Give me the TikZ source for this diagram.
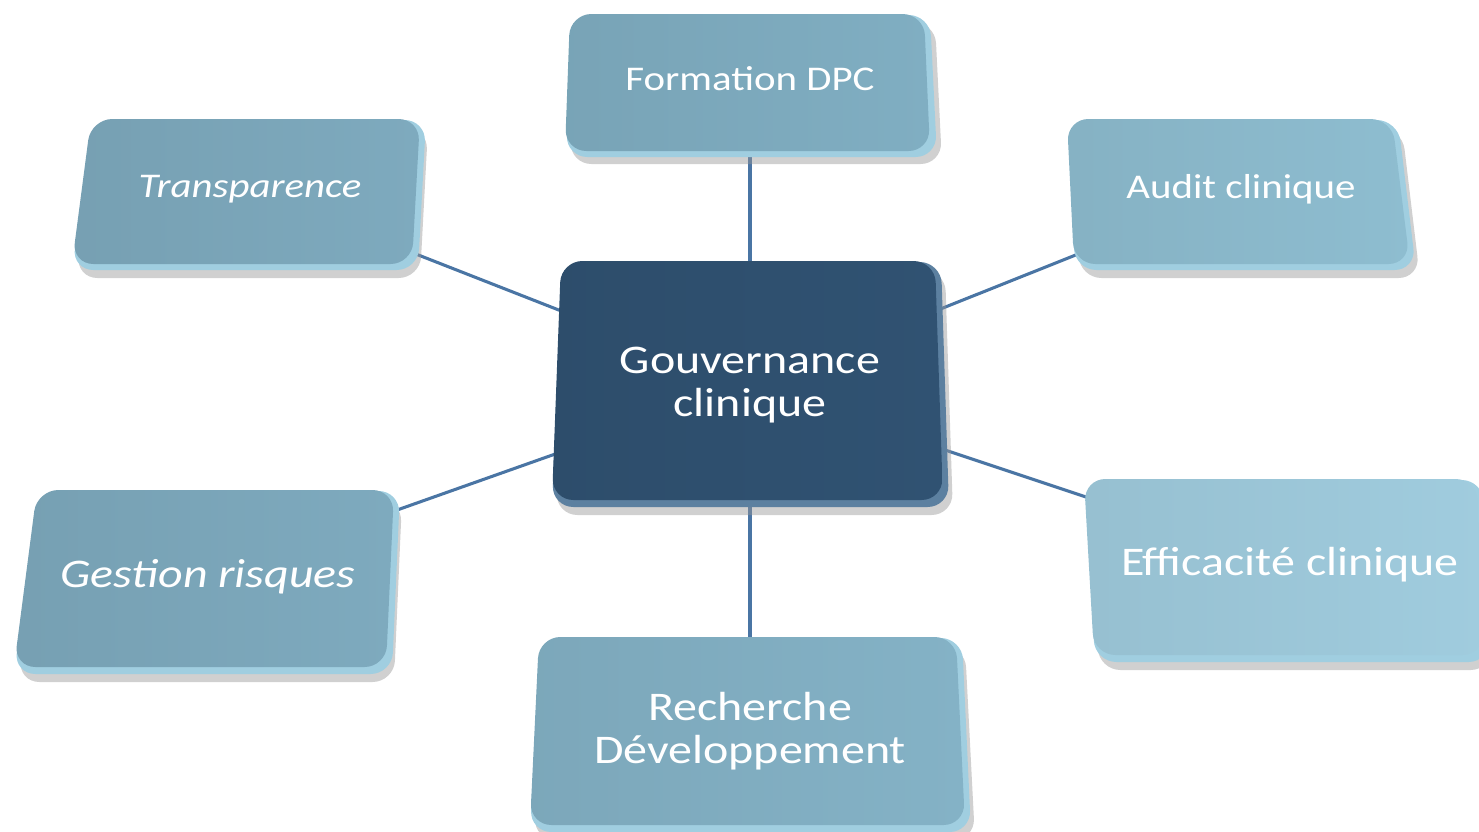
\documentclass[tikz,border=0pt]{standalone}
\usepackage{fontspec}
\usepackage{tikz}
\newfontfamily\boxfont[FakeStretch=1.18]{Carlito}

\pgfdeclarelayer{bg}
\pgfdeclarelayer{mid}
\pgfsetlayers{bg,mid,main}

\definecolor{linkblue}{RGB}{74,117,164}
\definecolor{bevel}{RGB}{160,206,224}
\definecolor{bevelnavy}{RGB}{92,128,160}
\definecolor{shadowgray}{RGB}{150,150,150}
\definecolor{formface}{RGB}{128,174,194}
\definecolor{leftface}{RGB}{126,170,190}
\definecolor{auditface}{RGB}{142,189,208}
\definecolor{gouvface}{RGB}{48,82,114}
\definecolor{efficface}{RGB}{160,204,222}
\definecolor{rechface}{RGB}{132,178,198}

\tikzset{
  face/.style={rounded corners=16pt, left color=#1!94!black, right color=#1},
  rim/.style={rounded corners=16pt, fill=bevel},
  shade below/.style={rounded corners=16pt, fill=shadowgray, opacity=0.45},
  small label/.style={text=white, font=\boxfont\fontsize{26}{30}\selectfont, align=center},
  big label/.style={text=white, font=\boxfont\fontsize{30.5}{32}\selectfont, align=center},
  link/.style={draw=linkblue, line width=2.3pt}
}

\begin{document}
\begin{tikzpicture}[x=0.75pt,y=0.75pt,yscale=-1,xscale=1]
\useasboundingbox (0,0) rectangle (1479,832);

% Text Node
\node[big label] (gouv) at (750,385) {Gouvernance\\clinique};
% Text Node
\node[small label] (form) at (750,79) {Formation DPC};
% Text Node
\node[small label] (trans) at (250,189) {\itshape Transparence};
% Text Node
\node[small label] (audit) at (1241,189) {Audit clinique};
% Text Node
\node[big label] (gest) at (208,577) {\itshape Gestion risques};
% Text Node
\node[big label] (effic) at (1290,565) {Efficacité clinique};
% Text Node
\node[big label] (rech) at (750,731) {Recherche\\Développement};

%Straight Lines
\begin{pgfonlayer}{bg}
\draw[link] (gouv) -- (form);
\draw[link] (gouv) -- (trans);
\draw[link] (gouv) -- (audit);
\draw[link] (gouv) -- (gest);
\draw[link] (gouv) -- (effic);
\draw[link] (gouv) -- (rech);
\end{pgfonlayer}

\begin{pgfonlayer}{mid}
% Formation DPC box
\fill[shade below] (575,22) -- (935,22) -- (942,164) -- (570,164) -- cycle;
\fill[rim] (572,15) -- (930,15) -- (937,157) -- (566,157) -- cycle;
\shade[face=formface] (570,14) -- (924,14) -- (930,151) -- (565,151) -- cycle;
% Transparence box
\fill[shade below] (95,128) -- (428,128) -- (420,278) -- (76,278) -- cycle;
\fill[rim] (92,120) -- (426,120) -- (418,270) -- (72,270) -- cycle;
\shade[face=leftface] (91,119) -- (420,119) -- (412,264) -- (72,264) -- cycle;
% Audit clinique box
\fill[shade below] (1072,128) -- (1402,128) -- (1420,278) -- (1080,278) -- cycle;
\fill[rim] (1068,120) -- (1398,120) -- (1416,270) -- (1075,270) -- cycle;
\shade[face=auditface] (1067,119) -- (1392,119) -- (1410,264) -- (1074,264) -- cycle;
% Gouvernance clinique box
\fill[shade below] (565,270) -- (945,270) -- (953,515) -- (556,515) -- cycle;
\fill[rim, fill=bevelnavy] (562,262) -- (941,262) -- (949,507) -- (552,507) -- cycle;
\shade[face=gouvface] (561,261) -- (935,261) -- (943,500) -- (552,500) -- cycle;
% Gestion risques box
\fill[shade below] (42,500) -- (402,500) -- (394,682) -- (18,682) -- cycle;
\fill[rim] (38,491) -- (400,491) -- (392,674) -- (14,674) -- cycle;
\shade[face=leftface] (37,490) -- (394,490) -- (386,667) -- (14,667) -- cycle;
% Efficacite clinique box
\fill[shade below] (1089,488) -- (1485,488) -- (1492,670) -- (1099,670) -- cycle;
\fill[rim] (1085,480) -- (1483,480) -- (1490,662) -- (1095,662) -- cycle;
\shade[face=efficface] (1084,479) -- (1477,479) -- (1484,655) -- (1094,655) -- cycle;
% Recherche Developpement box
\fill[shade below] (544,646) -- (965,646) -- (975,840) -- (534,840) -- cycle;
\fill[rim] (540,638) -- (962,638) -- (971,832) -- (530,832) -- cycle;
\shade[face=rechface] (539,637) -- (956,637) -- (965,825) -- (530,825) -- cycle;
\end{pgfonlayer}

\end{tikzpicture}
\end{document}
